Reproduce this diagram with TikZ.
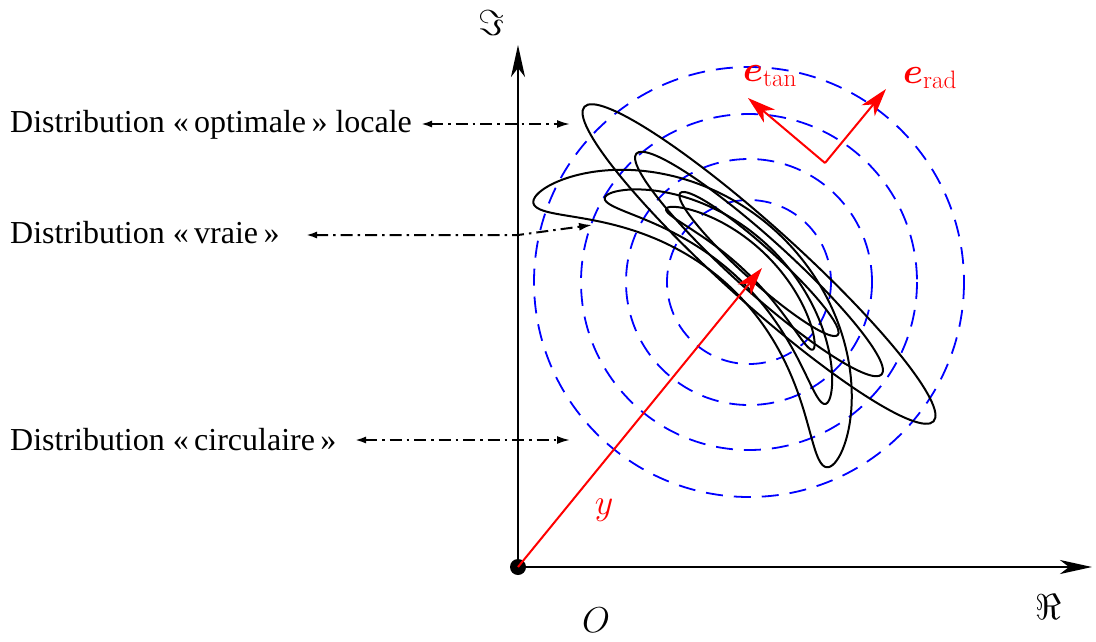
\RequirePackage{fix-cm}
\documentclass[tikz,border=0pt]{standalone}
\usepackage[no-math]{fontspec}
\setmainfont{Liberation Serif}
\usepackage{bm}
\usetikzlibrary{arrows.meta}
\begin{document}
\begin{tikzpicture}[x=1pt,y=-1pt,
  axis/.style={line width=2.6pt, -{Stealth[length=32pt,width=14pt,inset=9pt]}},
  contour/.style={line width=2pt, black},
  circ/.style={blue, line width=1.8pt, dash pattern=on 17pt off 11pt},
  vec/.style={red, line width=2pt, -{Stealth[length=28pt,width=17pt,inset=8pt]}},
  lbl/.style={font=\fontsize{32}{36}\selectfont, inner sep=0pt, anchor=base west},
  mathlbl/.style={font=\fontsize{36}{40}\selectfont, inner sep=0pt},
  dd/.style={line width=2pt, dash pattern=on 12pt off 5pt on 2.5pt off 5pt,
    {Latex[length=11pt,width=7pt]}-{Latex[length=13pt,width=8pt]}}
]
\useasboundingbox (0,0) rectangle (1096,641);

% circular distribution
\coordinate (Cc) at (749,282);
\foreach \r in {82,123,168,215} \draw[circ] (Cc) circle (\r);

% optimal local distribution (ellipses)
\begin{scope}[shift={(759,264)}, rotate=-42]
  \draw[contour] (0,0) ellipse [x radius=235, y radius=38];
  \draw[contour] (0,0) ellipse [x radius=165, y radius=27];
  \draw[contour] (0,0) ellipse [x radius=106, y radius=17];
\end{scope}

% true distribution (bananas)
\draw[contour] plot[domain=0:357, samples=120, smooth cycle, variable=\s]
  ({592+(237+36*sin(\s))*cos(48-56.3*cos(\s))}, {433-(237+36*sin(\s))*sin(48-56.3*cos(\s))});
\draw[contour] plot[domain=0:357, samples=120, smooth cycle, variable=\s]
  ({592+(235+22*sin(\s))*cos(47-39.9*cos(\s))}, {433-(235+22*sin(\s))*sin(47-39.9*cos(\s))});
\draw[contour] plot[domain=0:357, samples=120, smooth cycle, variable=\s]
  ({592+(236+13*sin(\s))*cos(46.2-25.5*cos(\s))}, {433-(236+13*sin(\s))*sin(46.2-25.5*cos(\s))});

% axes
\coordinate (O) at (518,567);
\coordinate (xend) at (1092,567);
\coordinate (yend) at (518,45);
\draw[axis] (O) -- (xend);
\draw[axis] (O) -- (yend);
\fill (O) circle (8);

\node[mathlbl] (Im) at (491,23) {$\Im$};
\node[mathlbl] (Re) at (1048,607) {$\Re$};
\node[mathlbl] (Olab) at (596,620) {$O$};
\node[mathlbl, text=red] (ylab) at (604,510) {$y$};

% vectors
\coordinate (Y) at (762,268);
\draw[vec] (O) -- (Y);
\coordinate (eb) at (825,163);
\coordinate (etip) at (748,98);
\coordinate (rtip) at (886,89);
\draw[vec] (eb) -- (etip);
\draw[vec] (eb) -- (rtip);
\node[mathlbl, text=red] (etan) at (770,76) {$\bm{e}_{\mathrm{tan}}$};
\node[mathlbl, text=red] (erad) at (930,78) {$\bm{e}_{\mathrm{rad}}$};

% labels
\node[lbl] (l1) at (10,132) {Distribution «\,optimale\,» locale};
\node[lbl] (l2) at (10,243) {Distribution «\,vraie\,»};
\node[lbl] (l3) at (10,450) {Distribution «\,circulaire\,»};

\coordinate (a1s) at (421,124);
\coordinate (a1e) at (570,124);
\draw[dd] (a1s) -- (a1e);

\coordinate (a2s) at (306,235);
\coordinate (a2m) at (518,235);
\coordinate (a2e) at (592,225);
\draw[dd] (a2s) -- (a2m) -- (a2e);

\coordinate (a3s) at (355,440);
\coordinate (a3e) at (570,440);
\draw[dd] (a3s) -- (a3e);
\end{tikzpicture}
\end{document}
